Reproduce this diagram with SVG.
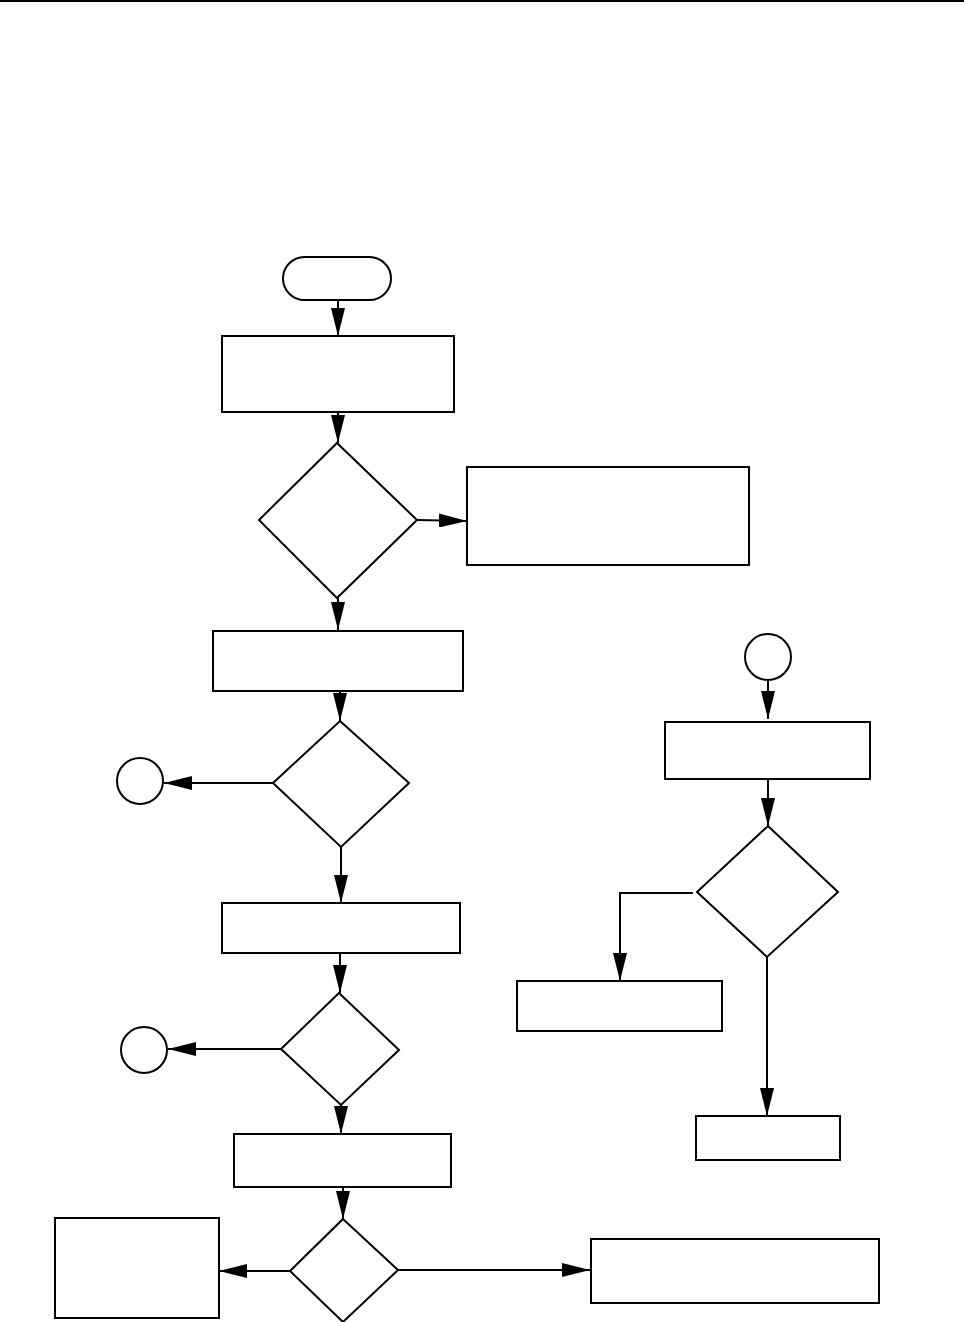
<svg xmlns="http://www.w3.org/2000/svg" width="964" height="1322" viewBox="0 0 964 1322">
<defs>
<style>
.s{fill:#fff;stroke:#000;stroke-width:2}
.c{fill:none;stroke:#000;stroke-width:2}
</style>
<marker id="ah" markerUnits="userSpaceOnUse" markerWidth="28" markerHeight="14" refX="28" refY="7" orient="auto">
<path d="M0,0 L28,7 L0,14 Z" fill="#000"/>
</marker>
</defs>
<rect width="964" height="1322" fill="#fff"/>
<line x1="0" y1="1" x2="964" y2="1" stroke="#000" stroke-width="2"/>
<g id="connectors">
<line class="c" x1="338" y1="300" x2="338" y2="336" marker-end="url(#ah)"/>
<line class="c" x1="338" y1="412" x2="338" y2="443" marker-end="url(#ah)"/>
<line class="c" x1="417" y1="520" x2="467" y2="521" marker-end="url(#ah)"/>
<line class="c" x1="338" y1="598" x2="338" y2="630" marker-end="url(#ah)"/>
<line class="c" x1="340" y1="691" x2="340" y2="721" marker-end="url(#ah)"/>
<line class="c" x1="273" y1="783" x2="164" y2="783" marker-end="url(#ah)"/>
<line class="c" x1="341" y1="847" x2="341" y2="903" marker-end="url(#ah)"/>
<line class="c" x1="340" y1="953" x2="340" y2="993" marker-end="url(#ah)"/>
<line class="c" x1="281" y1="1049" x2="168" y2="1049" marker-end="url(#ah)"/>
<line class="c" x1="341" y1="1105" x2="341" y2="1134" marker-end="url(#ah)"/>
<line class="c" x1="343" y1="1187" x2="343" y2="1219" marker-end="url(#ah)"/>
<line class="c" x1="290" y1="1271" x2="219" y2="1271" marker-end="url(#ah)"/>
<line class="c" x1="398" y1="1270" x2="590" y2="1270" marker-end="url(#ah)"/>
<line class="c" x1="768" y1="680" x2="768" y2="719" marker-end="url(#ah)"/>
<line class="c" x1="768" y1="779" x2="768" y2="826" marker-end="url(#ah)"/>
<polyline class="c" points="693,893 620,893 620,981" marker-end="url(#ah)"/>
<line class="c" x1="767" y1="957" x2="767" y2="1116" marker-end="url(#ah)"/>
</g>
<g id="start"><rect class="s" x="283" y="257" width="108" height="43" rx="21.5"/></g>
<g id="box1"><rect class="s" x="222" y="336" width="232" height="76"/></g>
<g id="dec1"><polygon class="s" points="337,443 417,520 337,598 259,520"/></g>
<g id="box2"><rect class="s" x="467" y="467" width="282" height="98"/></g>
<g id="box3"><rect class="s" x="213" y="631" width="250" height="60"/></g>
<g id="dec2"><polygon class="s" points="340,721 409,783 341,847 273,783"/></g>
<g id="conn1"><circle class="s" cx="140" cy="781" r="23"/></g>
<g id="box4"><rect class="s" x="222" y="903" width="238" height="50"/></g>
<g id="dec3"><polygon class="s" points="339,993 399,1050 341,1105 281,1049"/></g>
<g id="conn2"><circle class="s" cx="144" cy="1050" r="23"/></g>
<g id="box5"><rect class="s" x="234" y="1134" width="217" height="53"/></g>
<g id="dec4"><polygon class="s" points="343,1219 398,1270 343,1322 290,1271"/></g>
<g id="box6"><rect class="s" x="55" y="1218" width="164" height="100"/></g>
<g id="box7"><rect class="s" x="591" y="1239" width="288" height="64"/></g>
<g id="conn3"><circle class="s" cx="768" cy="657" r="23"/></g>
<g id="box9"><rect class="s" x="665" y="722" width="205" height="57"/></g>
<g id="dec5"><polygon class="s" points="768,826 838,892 767,957 697,892"/></g>
<g id="box10"><rect class="s" x="517" y="981" width="205" height="50"/></g>
<g id="box8"><rect class="s" x="696" y="1116" width="144" height="44"/></g>
</svg>
